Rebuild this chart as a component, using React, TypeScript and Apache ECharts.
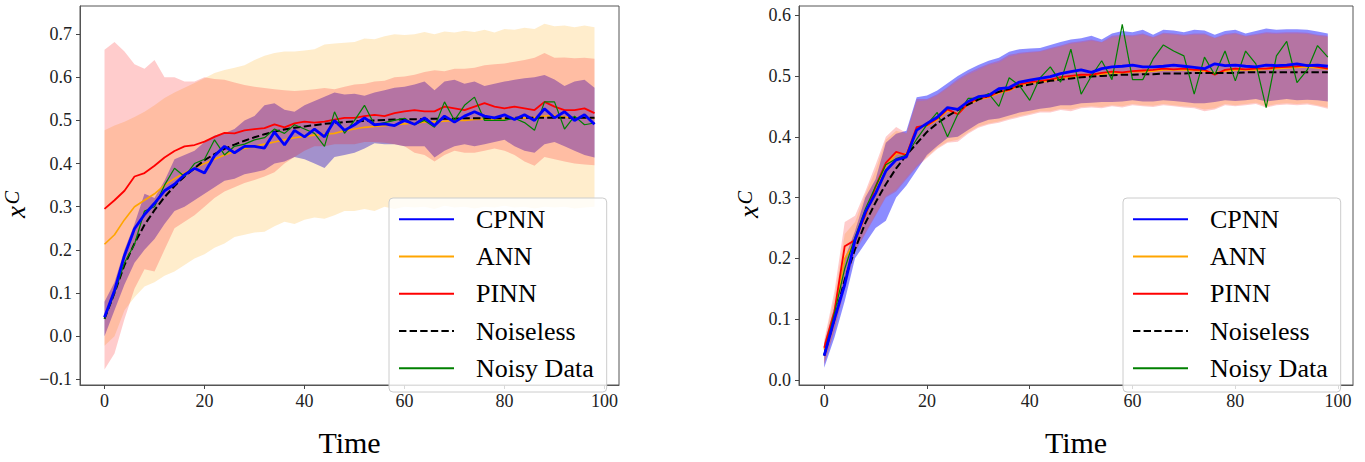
import React, { useEffect, useRef } from "react";
import * as echarts from "echarts";

const FONT = "Liberation Serif";

const T = [0, 2, 4, 6, 8, 10, 12, 14, 16, 18, 20, 22, 24, 26, 28, 30, 32, 34, 36, 38, 40, 42, 44, 46, 48, 50, 52, 54, 56, 58, 60, 62, 64, 66, 68, 70, 72, 74, 76, 78, 80, 82, 84, 86, 88, 90, 92, 94, 96, 98];

const NOISELESS = [0.04, 0.1, 0.165, 0.215, 0.258, 0.292, 0.322, 0.348, 0.37, 0.389, 0.408, 0.422, 0.434, 0.444, 0.453, 0.461, 0.468, 0.474, 0.479, 0.483, 0.486, 0.489, 0.492, 0.494, 0.496, 0.498, 0.499, 0.5, 0.501, 0.502, 0.502, 0.503, 0.503, 0.504, 0.504, 0.504, 0.505, 0.505, 0.505, 0.505, 0.505, 0.506, 0.506, 0.506, 0.506, 0.506, 0.506, 0.506, 0.506, 0.506];

// ---------- left panel ----------
const L_CPNN = [0.044, 0.106, 0.187, 0.249, 0.282, 0.308, 0.337, 0.352, 0.374, 0.389, 0.378, 0.418, 0.44, 0.425, 0.44, 0.44, 0.436, 0.473, 0.443, 0.477, 0.462, 0.48, 0.462, 0.5, 0.477, 0.49, 0.506, 0.49, 0.492, 0.488, 0.5, 0.491, 0.506, 0.488, 0.51, 0.496, 0.51, 0.52, 0.51, 0.506, 0.513, 0.502, 0.513, 0.5, 0.527, 0.506, 0.52, 0.5, 0.513, 0.491];
const L_ANN = [0.213, 0.235, 0.27, 0.3, 0.315, 0.33, 0.35, 0.365, 0.378, 0.39, 0.4, 0.41, 0.42, 0.428, 0.435, 0.44, 0.445, 0.45, 0.455, 0.46, 0.463, 0.466, 0.468, 0.47, 0.476, 0.48, 0.484, 0.486, 0.488, 0.49, 0.492, 0.494, 0.496, 0.497, 0.498, 0.5, 0.5, 0.502, 0.503, 0.503, 0.504, 0.505, 0.506, 0.507, 0.51, 0.512, 0.508, 0.506, 0.507, 0.505];
const L_PINN = [0.295, 0.315, 0.337, 0.37, 0.378, 0.395, 0.414, 0.429, 0.44, 0.443, 0.451, 0.462, 0.471, 0.47, 0.477, 0.48, 0.482, 0.491, 0.484, 0.493, 0.497, 0.495, 0.497, 0.502, 0.506, 0.506, 0.51, 0.513, 0.51, 0.517, 0.521, 0.524, 0.521, 0.521, 0.532, 0.528, 0.524, 0.532, 0.54, 0.532, 0.528, 0.532, 0.528, 0.524, 0.543, 0.532, 0.524, 0.524, 0.528, 0.517];
const L_NOISY = [0.04, 0.1, 0.17, 0.213, 0.29, 0.3, 0.35, 0.389, 0.37, 0.4, 0.41, 0.455, 0.42, 0.44, 0.445, 0.455, 0.46, 0.48, 0.47, 0.49, 0.48, 0.47, 0.44, 0.52, 0.47, 0.5, 0.535, 0.49, 0.495, 0.5, 0.505, 0.49, 0.5, 0.484, 0.543, 0.5, 0.535, 0.554, 0.5, 0.5, 0.5, 0.505, 0.495, 0.477, 0.543, 0.543, 0.48, 0.51, 0.49, 0.494];
const L_CPNN_HI = [0.08, 0.125, 0.2, 0.26, 0.33, 0.32, 0.36, 0.41, 0.42, 0.43, 0.45, 0.465, 0.47, 0.48, 0.5, 0.51, 0.535, 0.54, 0.525, 0.52, 0.535, 0.545, 0.555, 0.565, 0.56, 0.562, 0.557, 0.565, 0.57, 0.576, 0.578, 0.583, 0.59, 0.57, 0.59, 0.594, 0.585, 0.59, 0.58, 0.585, 0.59, 0.594, 0.598, 0.6, 0.605, 0.595, 0.58, 0.59, 0.594, 0.576];
const L_CPNN_LO = [0.0, 0.06, 0.12, 0.17, 0.2, 0.225, 0.26, 0.29, 0.3, 0.315, 0.33, 0.345, 0.36, 0.365, 0.375, 0.38, 0.385, 0.4, 0.405, 0.415, 0.41, 0.4, 0.39, 0.415, 0.42, 0.425, 0.435, 0.447, 0.445, 0.445, 0.44, 0.44, 0.44, 0.414, 0.43, 0.44, 0.445, 0.44, 0.445, 0.45, 0.455, 0.44, 0.43, 0.425, 0.445, 0.45, 0.44, 0.43, 0.42, 0.414];
const L_PINN_HI = [0.664, 0.682, 0.66, 0.63, 0.62, 0.64, 0.6, 0.6, 0.59, 0.59, 0.6, 0.596, 0.594, 0.588, 0.582, 0.578, 0.575, 0.572, 0.57, 0.568, 0.57, 0.572, 0.575, 0.572, 0.578, 0.583, 0.585, 0.59, 0.592, 0.6, 0.602, 0.606, 0.612, 0.616, 0.614, 0.62, 0.62, 0.622, 0.628, 0.63, 0.632, 0.636, 0.64, 0.645, 0.656, 0.645, 0.646, 0.644, 0.645, 0.643];
const L_PINN_LO = [-0.077, -0.04, 0.04, 0.11, 0.155, 0.15, 0.2, 0.25, 0.265, 0.28, 0.3, 0.32, 0.335, 0.345, 0.355, 0.362, 0.37, 0.38, 0.4, 0.415, 0.43, 0.44, 0.44, 0.445, 0.445, 0.445, 0.45, 0.45, 0.448, 0.445, 0.44, 0.425, 0.42, 0.405, 0.42, 0.43, 0.425, 0.425, 0.43, 0.435, 0.43, 0.42, 0.405, 0.395, 0.415, 0.41, 0.405, 0.4, 0.398, 0.396];
const L_ANN_HI = [0.477, 0.488, 0.497, 0.508, 0.52, 0.535, 0.552, 0.565, 0.576, 0.587, 0.598, 0.61, 0.617, 0.622, 0.628, 0.64, 0.65, 0.656, 0.66, 0.66, 0.662, 0.665, 0.676, 0.678, 0.68, 0.682, 0.69, 0.688, 0.695, 0.7, 0.698, 0.7, 0.705, 0.7, 0.706, 0.704, 0.708, 0.705, 0.71, 0.704, 0.712, 0.71, 0.715, 0.712, 0.724, 0.718, 0.72, 0.716, 0.72, 0.716];
const L_ANN_LO = [-0.022, 0.0, 0.06, 0.09, 0.115, 0.125, 0.14, 0.15, 0.165, 0.18, 0.19, 0.205, 0.215, 0.23, 0.235, 0.24, 0.242, 0.255, 0.265, 0.26, 0.27, 0.275, 0.272, 0.28, 0.29, 0.29, 0.295, 0.29, 0.3, 0.295, 0.3, 0.298, 0.3, 0.295, 0.302, 0.298, 0.3, 0.296, 0.3, 0.298, 0.302, 0.298, 0.3, 0.296, 0.3, 0.298, 0.3, 0.296, 0.298, 0.3];

// ---------- right panel ----------
const R_CPNN = [0.04, 0.1, 0.157, 0.23, 0.276, 0.307, 0.344, 0.362, 0.367, 0.411, 0.422, 0.432, 0.448, 0.445, 0.458, 0.466, 0.468, 0.479, 0.481, 0.49, 0.493, 0.496, 0.499, 0.504, 0.507, 0.51, 0.506, 0.512, 0.515, 0.516, 0.518, 0.515, 0.515, 0.516, 0.518, 0.516, 0.514, 0.512, 0.52, 0.517, 0.518, 0.516, 0.515, 0.518, 0.517, 0.518, 0.52, 0.517, 0.518, 0.516];
const R_PINN = [0.053, 0.113, 0.22, 0.23, 0.271, 0.318, 0.357, 0.375, 0.37, 0.416, 0.419, 0.43, 0.445, 0.437, 0.455, 0.463, 0.466, 0.474, 0.477, 0.486, 0.49, 0.492, 0.494, 0.498, 0.5, 0.502, 0.502, 0.505, 0.507, 0.506, 0.508, 0.509, 0.51, 0.512, 0.511, 0.512, 0.51, 0.51, 0.502, 0.51, 0.512, 0.511, 0.512, 0.512, 0.514, 0.515, 0.516, 0.518, 0.515, 0.512];
const R_ANN = [0.05, 0.108, 0.2, 0.228, 0.27, 0.315, 0.352, 0.372, 0.372, 0.412, 0.418, 0.428, 0.443, 0.438, 0.453, 0.461, 0.465, 0.472, 0.476, 0.484, 0.488, 0.49, 0.492, 0.496, 0.498, 0.5, 0.501, 0.503, 0.505, 0.505, 0.507, 0.507, 0.508, 0.51, 0.51, 0.51, 0.509, 0.508, 0.505, 0.508, 0.51, 0.51, 0.51, 0.511, 0.512, 0.513, 0.514, 0.515, 0.513, 0.511];
const R_NOISY = [0.043, 0.11, 0.183, 0.235, 0.281, 0.318, 0.354, 0.364, 0.37, 0.396, 0.42, 0.44, 0.4, 0.437, 0.463, 0.463, 0.471, 0.45, 0.497, 0.484, 0.46, 0.497, 0.515, 0.49, 0.544, 0.47, 0.5, 0.525, 0.494, 0.585, 0.494, 0.494, 0.528, 0.551, 0.541, 0.533, 0.47, 0.531, 0.502, 0.541, 0.492, 0.541, 0.52, 0.448, 0.533, 0.557, 0.489, 0.51, 0.55, 0.531];
const R_CPNN_HI = [0.06, 0.12, 0.2, 0.245, 0.3, 0.33, 0.39, 0.405, 0.41, 0.465, 0.468, 0.476, 0.488, 0.5, 0.51, 0.518, 0.525, 0.53, 0.54, 0.544, 0.545, 0.546, 0.551, 0.556, 0.56, 0.562, 0.566, 0.56, 0.57, 0.574, 0.572, 0.576, 0.568, 0.576, 0.575, 0.572, 0.576, 0.575, 0.568, 0.574, 0.576, 0.57, 0.574, 0.578, 0.576, 0.577, 0.577, 0.576, 0.573, 0.57];
const R_CPNN_LO = [0.02, 0.07, 0.13, 0.2, 0.225, 0.25, 0.262, 0.3, 0.32, 0.345, 0.37, 0.385, 0.398, 0.4, 0.411, 0.422, 0.428, 0.43, 0.435, 0.44, 0.443, 0.446, 0.448, 0.452, 0.452, 0.455, 0.456, 0.457, 0.457, 0.458, 0.46, 0.458, 0.458, 0.46, 0.459, 0.457, 0.455, 0.455, 0.457, 0.46, 0.459, 0.46, 0.462, 0.458, 0.46, 0.462, 0.46, 0.461, 0.46, 0.458];
const R_PINN_HI = [0.065, 0.146, 0.26, 0.27, 0.31, 0.354, 0.4, 0.416, 0.406, 0.462, 0.462, 0.47, 0.482, 0.495, 0.505, 0.513, 0.52, 0.525, 0.535, 0.538, 0.54, 0.541, 0.546, 0.55, 0.555, 0.557, 0.56, 0.556, 0.566, 0.568, 0.567, 0.57, 0.564, 0.571, 0.57, 0.568, 0.57, 0.57, 0.563, 0.569, 0.571, 0.566, 0.569, 0.572, 0.571, 0.572, 0.572, 0.571, 0.568, 0.566];
const R_PINN_LO = [0.025, 0.08, 0.15, 0.21, 0.24, 0.27, 0.3, 0.31, 0.33, 0.35, 0.365, 0.38, 0.39, 0.392, 0.405, 0.415, 0.42, 0.423, 0.428, 0.432, 0.436, 0.44, 0.44, 0.444, 0.442, 0.447, 0.448, 0.447, 0.45, 0.448, 0.452, 0.45, 0.449, 0.452, 0.45, 0.448, 0.447, 0.442, 0.445, 0.452, 0.45, 0.452, 0.454, 0.448, 0.452, 0.453, 0.452, 0.453, 0.45, 0.446];
const R_ANN_HI = [0.062, 0.135, 0.24, 0.26, 0.305, 0.345, 0.395, 0.41, 0.405, 0.458, 0.46, 0.468, 0.48, 0.492, 0.502, 0.51, 0.518, 0.522, 0.532, 0.536, 0.538, 0.54, 0.544, 0.548, 0.553, 0.555, 0.558, 0.555, 0.563, 0.566, 0.565, 0.568, 0.563, 0.569, 0.568, 0.566, 0.568, 0.568, 0.562, 0.567, 0.569, 0.565, 0.567, 0.57, 0.569, 0.57, 0.57, 0.569, 0.566, 0.564];
const R_ANN_LO = [0.028, 0.082, 0.152, 0.212, 0.243, 0.272, 0.302, 0.313, 0.333, 0.352, 0.367, 0.382, 0.392, 0.395, 0.407, 0.417, 0.422, 0.425, 0.43, 0.434, 0.438, 0.442, 0.442, 0.446, 0.445, 0.449, 0.45, 0.449, 0.452, 0.45, 0.454, 0.452, 0.451, 0.454, 0.452, 0.45, 0.449, 0.445, 0.447, 0.454, 0.452, 0.454, 0.456, 0.45, 0.454, 0.455, 0.454, 0.455, 0.452, 0.448];

// ---------- axes ----------
const X_TICKS = [0, 20, 40, 60, 80, 100];
const L_Y_TICKS = [-0.1, 0, 0.1, 0.2, 0.3, 0.4, 0.5, 0.6, 0.7];
const R_Y_TICKS = [0, 0.1, 0.2, 0.3, 0.4, 0.5, 0.6];
const LEGEND_NAMES = ["CPNN", "ANN", "PINN", "Noiseless", "Noisy Data"];

const COLORS = { CPNN: "#0000ff", ANN: "#ffa500", PINN: "#ff0000", Noiseless: "#000000", Noisy: "#008000" };
const BAND_FILL = { CPNN: "rgba(0,0,255,0.45)", ANN: "rgba(255,165,0,0.2)", PINN: "rgba(255,0,0,0.2)" };

const pts = (ys: number[]) => T.map((t, i) => [t, ys[i]]);

function band(lo: number[], hi: number[], fill: string, ax: number) {
  return {
    type: "custom",
    xAxisIndex: ax,
    yAxisIndex: ax,
    silent: true,
    clip: true,
    z: 1,
    data: [[T[0], lo[0], hi[0]]],
    encode: { x: 0, y: [1, 2] },
    renderItem: (_params: any, api: any) => {
      const upper = T.map((t, i) => api.coord([t, hi[i]]));
      const lower = T.map((t, i) => api.coord([t, lo[i]])).reverse();
      return { type: "polygon", shape: { points: upper.concat(lower) }, style: { fill, stroke: "none" } };
    },
  };
}

function lines(ax: number, cpnn: number[], ann: number[], pinn: number[], noisy: number[]) {
  const base = { type: "line", symbol: "none", xAxisIndex: ax, yAxisIndex: ax, z: 3, emphasis: { disabled: true } };
  return [
    { ...base, name: "ANN", data: pts(ann), lineStyle: { color: COLORS.ANN, width: 1.6 }, itemStyle: { color: COLORS.ANN } },
    { ...base, name: "PINN", data: pts(pinn), lineStyle: { color: COLORS.PINN, width: 1.8 }, itemStyle: { color: COLORS.PINN } },
    { ...base, name: "Noiseless", data: pts(NOISELESS), lineStyle: { color: COLORS.Noiseless, width: 2, type: [7.4, 3.2] }, itemStyle: { color: COLORS.Noiseless } },
    { ...base, name: "Noisy Data", data: pts(noisy), lineStyle: { color: COLORS.Noisy, width: 1.2 }, itemStyle: { color: COLORS.Noisy } },
    { ...base, name: "CPNN", data: pts(cpnn), lineStyle: { color: COLORS.CPNN, width: 2.8 }, itemStyle: { color: COLORS.CPNN } },
  ];
}

const fmt = (v: number) => (v < -1e-9 ? "\u2212" : "") + Math.abs(v).toFixed(1);

function xAxis(gridIndex: number) {
  return {
    type: "value",
    gridIndex,
    min: -4.9,
    max: 102.9,
    axisLine: { show: true, onZero: false, lineStyle: { color: "#555", width: 1 } },
    splitLine: { show: false },
    axisTick: { show: true, length: 4, lineStyle: { color: "#444" }, customValues: X_TICKS },
    axisLabel: { customValues: X_TICKS, margin: 7, fontSize: 18, fontFamily: FONT, color: "#222" },
    name: "Time",
    nameLocation: "middle",
    nameGap: 42,
    nameTextStyle: { fontSize: 30, fontFamily: FONT, color: "#000" },
  };
}

function yAxis(gridIndex: number, min: number, max: number, ticks: number[]) {
  return {
    type: "value",
    gridIndex,
    min,
    max,
    axisLine: { show: true, onZero: false, lineStyle: { color: "#555", width: 1 } },
    splitLine: { show: false },
    axisTick: { show: true, length: 4, lineStyle: { color: "#444" }, customValues: ticks },
    axisLabel: { customValues: ticks, margin: 8, fontSize: 18, fontFamily: FONT, color: "#222", formatter: fmt },
  };
}

function legend(left: number) {
  return {
    data: LEGEND_NAMES,
    orient: "vertical",
    left,
    top: 198,
    itemWidth: 55,
    itemHeight: 14,
    itemGap: 11.25,
    selectedMode: false,
    padding: [8.3, 13, 10.7, 9],
    backgroundColor: "rgba(255,255,255,0.8)",
    borderColor: "#cccccc",
    borderWidth: 1,
    borderRadius: 4,
    itemStyle: { opacity: 0 },
    textStyle: { fontFamily: FONT, fontSize: 26, lineHeight: 26, color: "#000", padding: [0, 0, 0, 17] },
  };
}

function ylabel(cx: number) {
  return [
    {
      type: "text",
      x: cx,
      y: 212,
      rotation: Math.PI / 2,
      silent: true,
      style: { text: "x", font: 'italic 27px "Liberation Serif"', fill: "#000", align: "center", verticalAlign: "middle", textAlign: "center", textVerticalAlign: "middle" },
    },
    {
      type: "text",
      x: cx - 4.5,
      y: 197.5,
      rotation: Math.PI / 2,
      silent: true,
      style: { text: "C", font: 'italic 20px "Liberation Serif"', fill: "#000", align: "center", verticalAlign: "middle", textAlign: "center", textVerticalAlign: "middle" },
    },
  ];
}

export default function App() {
  const ref = useRef<HTMLDivElement>(null);
  useEffect(() => {
    if (!ref.current) return;
    const chart = echarts.init(ref.current, undefined, { renderer: "svg" });
    const series: any[] = [
      band(L_CPNN_LO, L_CPNN_HI, BAND_FILL.CPNN, 0),
      band(L_ANN_LO, L_ANN_HI, BAND_FILL.ANN, 0),
      band(L_PINN_LO, L_PINN_HI, BAND_FILL.PINN, 0),
      band(R_CPNN_LO, R_CPNN_HI, BAND_FILL.CPNN, 1),
      band(R_ANN_LO, R_ANN_HI, BAND_FILL.ANN, 1),
      band(R_PINN_LO, R_PINN_HI, BAND_FILL.PINN, 1),
      ...lines(0, L_CPNN, L_ANN, L_PINN, L_NOISY),
      ...lines(1, R_CPNN, R_ANN, R_PINN, R_NOISY),
    ];
    chart.setOption({
      animation: false,
      backgroundColor: "#ffffff",
      textStyle: { fontFamily: FONT },
      grid: [
        { left: 80, top: 6, width: 539, height: 400, show: true, borderColor: "#555", borderWidth: 1, backgroundColor: "transparent" },
        { left: 799, top: 6, width: 554, height: 400, show: true, borderColor: "#555", borderWidth: 1, backgroundColor: "transparent" },
      ],
      xAxis: [xAxis(0), xAxis(1)],
      yAxis: [yAxis(0, -0.1132, 0.7652, L_Y_TICKS), yAxis(1, -0.0083, 0.6151, R_Y_TICKS)],
      legend: [legend(389), legend(1123)],
      graphic: [...ylabel(16), ...ylabel(749)],
      series,
    });
    return () => chart.dispose();
  }, []);
  return <div ref={ref} style={{ position: "absolute", left: 0, top: 0, width: 1365, height: 462 }} />;
}
